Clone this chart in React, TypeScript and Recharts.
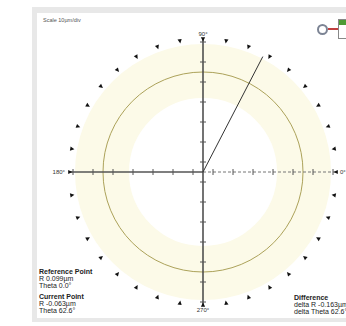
import React from "react";
import { ComposedChart, XAxis, YAxis, Scatter, ReferenceDot } from "recharts";

// polar plot, values in plot units (1 unit = 1px)
const markerAngles = [
  0, 10, 20, 30, 40, 50, 60, 70, 80, 90, 100, 110, 120, 130, 140, 150, 160, 170,
  180, 190, 200, 210, 220, 230, 240, 250, 260, 270, 280, 290, 300, 310, 320, 330, 340, 350,
];
const markerRadius = 133;
const toleranceRadius = 100;
const bandInner = 74;
const bandOuter = 128;
const axisTicks = [10, 30, 50, 70, 90, 110, 130];
const currentTheta = 62.6;
const currentLength = 130;
const angleLabels = [
  { angle: 0, text: "0°" },
  { angle: 90, text: "90°" },
  { angle: 180, text: "180°" },
  { angle: 270, text: "270°" },
];

const scaleText = "Scale 10µm/div";
const referenceLines = ["Reference Point", "R 0.099µm", "Theta 0.0°"];
const currentLines = ["Current Point", "R -0.063µm", "Theta 62.6°"];
const differenceLines = ["Difference", "delta R -0.163µm", "delta Theta 62.6°"];

const rad = (a: number) => (a * Math.PI) / 180;

const origin = [{ x: 0, y: 0 }];

const markers = markerAngles.map((a) => ({
  x: markerRadius * Math.cos(rad(a)),
  y: markerRadius * Math.sin(rad(a)),
  angle: a,
}));

const ticks = [
  ...axisTicks.map((t) => ({ x: -t, y: 0, dir: "h" })),
  ...axisTicks.map((t) => ({ x: t, y: 0, dir: "h" })),
  ...axisTicks.map((t) => ({ x: 0, y: t, dir: "v" })),
  ...axisTicks.map((t) => ({ x: 0, y: -t, dir: "v" })),
];

const leftAxis = [{ x: -markerRadius, y: 0 }, { x: 0, y: 0 }];
const rightAxis = [{ x: 0, y: 0 }, { x: markerRadius, y: 0 }];
const verticalAxis = [{ x: 0, y: markerRadius }, { x: 0, y: -markerRadius }];
const currentLine = [
  { x: 0, y: 0 },
  { x: currentLength * Math.cos(rad(currentTheta)), y: currentLength * Math.sin(rad(currentTheta)) },
];

const FONT = "'Liberation Sans', Arial, sans-serif";

const Band = (props: any) => (
  <circle
    cx={props.cx}
    cy={props.cy}
    r={(bandInner + bandOuter) / 2}
    fill="none"
    stroke="#fcfae8"
    strokeWidth={bandOuter - bandInner}
  />
);

const Ring = (props: any) => (
  <circle cx={props.cx} cy={props.cy} r={toleranceRadius} fill="none" stroke="#aca25a" strokeWidth={1} />
);

const NoDot = () => <g />;

const Triangle = (props: any) => {
  const { cx, cy, payload } = props;
  const a = rad(payload.angle);
  const dx = -Math.cos(a);
  const dy = Math.sin(a);
  const px = -dy;
  const py = dx;
  const tip = [cx + dx * 2.4, cy + dy * 2.4];
  const b1 = [cx - dx * 1.8 + px * 2.1, cy - dy * 1.8 + py * 2.1];
  const b2 = [cx - dx * 1.8 - px * 2.1, cy - dy * 1.8 - py * 2.1];
  return (
    <polygon
      points={`${tip[0]},${tip[1]} ${b1[0]},${b1[1]} ${b2[0]},${b2[1]}`}
      fill="#111"
    />
  );
};

const TickMark = (props: any) => {
  const { cx, cy, payload } = props;
  if (payload.dir === "h") {
    return <line x1={cx} x2={cx} y1={cy - 3} y2={cy + 3} stroke="#555" strokeWidth={1} />;
  }
  return <line x1={cx - 3} x2={cx + 3} y1={cy} y2={cy} stroke="#555" strokeWidth={1} />;
};

const labelPos = (angle: number) => {
  if (angle === 0) return { position: "right" as const, offset: 4 };
  if (angle === 90) return { position: "top" as const, offset: 3 };
  if (angle === 180) return { position: "left" as const, offset: 5 };
  return { position: "bottom" as const, offset: 3 };
};

const textLine = (bold: boolean): React.CSSProperties => ({
  fontWeight: bold ? 700 : 400,
  lineHeight: "7px",
  whiteSpace: "nowrap",
});

export default function App() {
  return (
    <div
      style={{
        position: "absolute",
        left: 0,
        top: 0,
        width: 346,
        height: 326,
        overflow: "hidden",
        background: "#fff",
        fontFamily: FONT,
      }}
    >
      <div style={{ position: "absolute", left: 32, top: 7, width: 330, height: 315, background: "#e8e8e8" }} />
      <div style={{ position: "absolute", left: 37, top: 13, width: 330, height: 305, background: "#fff" }} />
      <div style={{ position: "absolute", left: 0, top: 0 }}>
        <ComposedChart
          width={346}
          height={326}
          margin={{ top: 0, right: 0, bottom: 0, left: 0 }}
          style={{ fontFamily: FONT }}
        >
          <XAxis type="number" dataKey="x" domain={[-203, 143]} hide allowDataOverflow />
          <YAxis type="number" dataKey="y" domain={[-154, 172]} hide allowDataOverflow />
          <Scatter data={origin} shape={<Band />} isAnimationActive={false} />
          <Scatter data={origin} shape={<Ring />} isAnimationActive={false} />
          <Scatter
            data={leftAxis}
            line={{ stroke: "#555", strokeWidth: 1.4 }}
            shape={<NoDot />}
            isAnimationActive={false}
          />
          <Scatter
            data={rightAxis}
            line={{ stroke: "#777", strokeWidth: 1, strokeDasharray: "3 2" }}
            shape={<NoDot />}
            isAnimationActive={false}
          />
          <Scatter
            data={verticalAxis}
            line={{ stroke: "#444", strokeWidth: 1.5 }}
            shape={<NoDot />}
            isAnimationActive={false}
          />
          <Scatter
            data={currentLine}
            line={{ stroke: "#333", strokeWidth: 1 }}
            shape={<NoDot />}
            isAnimationActive={false}
          />
          <Scatter data={ticks} shape={<TickMark />} isAnimationActive={false} />
          <Scatter data={markers} shape={<Triangle />} isAnimationActive={false} />
          {angleLabels.map((l) => (
            <ReferenceDot
              key={l.text}
              x={markerRadius * Math.cos(rad(l.angle))}
              y={markerRadius * Math.sin(rad(l.angle))}
              r={0}
              fill="none"
              stroke="none"
              label={{ value: l.text, fontSize: 6, fill: "#333", ...labelPos(l.angle) }}
            />
          ))}
        </ComposedChart>
      </div>

      <div style={{ position: "absolute", left: 43, top: 17, fontSize: 5.5, color: "#555", whiteSpace: "nowrap" }}>
        {scaleText}
      </div>

      {/* top-right icon */}
      <div
        style={{
          position: "absolute",
          left: 317,
          top: 24,
          width: 7,
          height: 7,
          borderRadius: "50%",
          border: "2px solid #7c8494",
          background: "#fff",
        }}
      />
      <div style={{ position: "absolute", left: 328, top: 28, width: 10, height: 1.5, background: "#c04040" }} />
      <div
        style={{
          position: "absolute",
          left: 338,
          top: 19,
          width: 14,
          height: 18,
          border: "1px solid #888",
          background: "#fff",
        }}
      >
        <div style={{ height: 5, background: "#4e9a34" }} />
      </div>

      <div style={{ position: "absolute", left: 39, top: 268, fontSize: 7, color: "#222" }}>
        {referenceLines.map((t, i) => (
          <div key={t} style={textLine(i === 0)}>{t}</div>
        ))}
        <div style={{ height: 4 }} />
        {currentLines.map((t, i) => (
          <div key={t} style={textLine(i === 0)}>{t}</div>
        ))}
      </div>

      <div style={{ position: "absolute", left: 294, top: 294, fontSize: 7, color: "#222" }}>
        {differenceLines.map((t, i) => (
          <div key={t} style={textLine(i === 0)}>{t}</div>
        ))}
      </div>
    </div>
  );
}
